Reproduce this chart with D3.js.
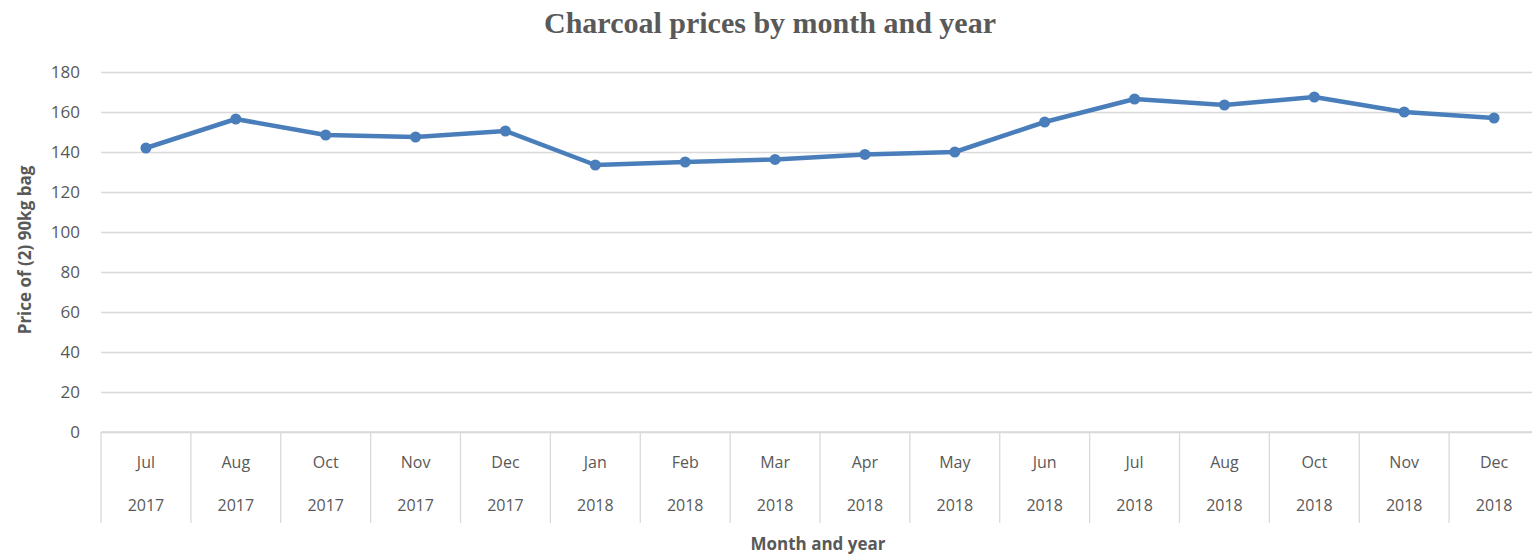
<!DOCTYPE html>
<html>
<head>
<meta charset="utf-8">
<script src="https://cdn.jsdelivr.net/npm/d3@7"></script>
<style>
  body { margin: 0; background: #fff; }
  svg { display: block; }
</style>
</head>
<body>
<div id="chart"></div>
<script>
// Chart data
const months = ['Jul', 'Aug', 'Oct', 'Nov', 'Dec', 'Jan', 'Feb', 'Mar', 'Apr', 'May', 'Jun', 'Jul', 'Aug', 'Oct', 'Nov', 'Dec'];
const years = ['2017', '2017', '2017', '2017', '2017', '2018', '2018', '2018', '2018', '2018', '2018', '2018', '2018', '2018', '2018', '2018'];
const prices = [142, 156.5, 148.5, 147.5, 150.5, 133.5, 135, 136.3, 138.8, 140, 155, 166.5, 163.5, 167.5, 160, 157];
const yTicks = [0, 20, 40, 60, 80, 100, 120, 140, 160, 180];

const width = 1532;
const height = 557;
const margin = { top: 72, right: -7, bottom: 125, left: 101 };
const usableArea = {
    top: margin.top,
    right: width - margin.right,
    bottom: height - margin.bottom,
    left: margin.left,
};

const textColor = '#595959';
const gridColor = '#d9d9d9';
const lineColor = '#4a7ebb';
const font = "'Open Sans', sans-serif";

const svg = d3.select('#chart')
    .append('svg')
    .attr('width', width)
    .attr('height', height);

// Scales
const keys = months.map((m, i) => i);
const xScale = d3.scaleBand()
    .domain(keys)
    .range([usableArea.left, usableArea.right]);

const yScale = d3.scaleLinear()
    .domain([0, 180])
    .range([usableArea.bottom, usableArea.top]);

// Gridlines
svg.append('g')
    .attr('class', 'gridlines')
    .attr('transform', `translate(${usableArea.left}, 0)`)
    .call(d3.axisLeft(yScale).tickValues(yTicks).tickFormat('').tickSize(-(usableArea.right - usableArea.left)))
    .call(g => g.select('.domain').remove())
    .call(g => g.selectAll('line').attr('stroke', gridColor).attr('stroke-width', 1.3));

// Y axis labels
svg.append('g')
    .attr('transform', `translate(${usableArea.left - 21}, 0)`)
    .call(d3.axisLeft(yScale).tickValues(yTicks).tickSize(0).tickPadding(0))
    .call(g => g.select('.domain').remove())
    .call(g => g.selectAll('text')
        .attr('fill', textColor)
        .style('font-family', font)
        .style('font-size', '17px'));

// X axis: category boxes with two-level labels
const xAxis = svg.append('g').attr('class', 'x-axis');
xAxis.append('line')
    .attr('x1', usableArea.left)
    .attr('x2', usableArea.right)
    .attr('y1', usableArea.bottom)
    .attr('y2', usableArea.bottom)
    .attr('stroke', gridColor)
    .attr('stroke-width', 1.3);

const boundaries = keys.map(k => xScale(k)).concat([xScale(keys[keys.length - 1]) + xScale.bandwidth()]);
xAxis.selectAll('.divider')
    .data(boundaries)
    .join('line')
    .attr('class', 'divider')
    .attr('x1', d => d)
    .attr('x2', d => d)
    .attr('y1', usableArea.bottom)
    .attr('y2', usableArea.bottom + 91)
    .attr('stroke', gridColor)
    .attr('stroke-width', 1.3);

xAxis.selectAll('.month')
    .data(keys)
    .join('text')
    .attr('class', 'month')
    .attr('x', d => xScale(d) + xScale.bandwidth() / 2)
    .attr('y', usableArea.bottom + 36)
    .attr('text-anchor', 'middle')
    .attr('fill', textColor)
    .style('font-family', font)
    .style('font-size', '16px')
    .text(d => months[d]);

xAxis.selectAll('.year')
    .data(keys)
    .join('text')
    .attr('class', 'year')
    .attr('x', d => xScale(d) + xScale.bandwidth() / 2)
    .attr('y', usableArea.bottom + 79)
    .attr('text-anchor', 'middle')
    .attr('fill', textColor)
    .style('font-family', font)
    .style('font-size', '16px')
    .text(d => years[d]);

// Line and markers
const lineData = d3.line()
    .x((d, i) => xScale(i) + xScale.bandwidth() / 2)
    .y(d => yScale(d));

svg.append('path')
    .datum(prices)
    .attr('fill', 'none')
    .attr('stroke', lineColor)
    .attr('stroke-width', 4.5)
    .attr('stroke-linejoin', 'round')
    .attr('d', lineData);

svg.selectAll('.dot')
    .data(prices)
    .join('circle')
    .attr('class', 'dot')
    .attr('cx', (d, i) => xScale(i) + xScale.bandwidth() / 2)
    .attr('cy', d => yScale(d))
    .attr('r', 5.5)
    .attr('fill', lineColor);

// Titles
svg.append('text')
    .attr('x', 770)
    .attr('y', 33)
    .attr('text-anchor', 'middle')
    .attr('fill', textColor)
    .style('font-family', "'Liberation Serif', 'Times New Roman', serif")
    .style('font-weight', 'bold')
    .style('font-size', '30px')
    .text('Charcoal prices by month and year');

svg.append('text')
    .attr('transform', `translate(31, 250) rotate(-90)`)
    .attr('text-anchor', 'middle')
    .attr('fill', textColor)
    .style('font-family', font)
    .style('font-weight', 'bold')
    .style('font-size', '17px')
    .text('Price of (2) 90kg bag');

svg.append('text')
    .attr('x', 818)
    .attr('y', 550)
    .attr('text-anchor', 'middle')
    .attr('fill', textColor)
    .style('font-family', font)
    .style('font-weight', 'bold')
    .style('font-size', '17px')
    .text('Month and year');
</script>
</body>
</html>
